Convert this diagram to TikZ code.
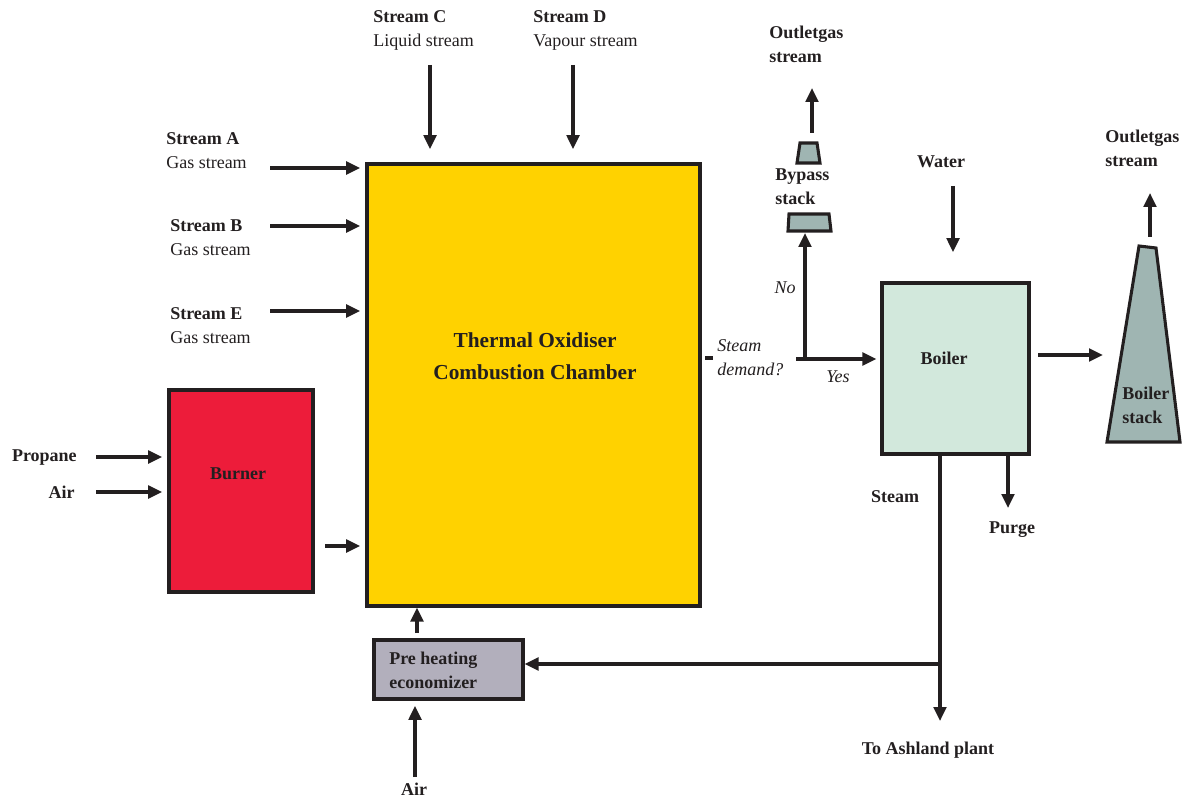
\documentclass[tikz,border=0pt]{standalone}
\usepackage{fontspec}
\setmainfont{Liberation Serif}
\usetikzlibrary{arrows.meta,fit}
\definecolor{ink}{HTML}{231F20}
\definecolor{oxfill}{HTML}{FFD200}
\definecolor{burnfill}{HTML}{ED1C3A}
\definecolor{ecofill}{HTML}{B2AFBC}
\definecolor{boilfill}{HTML}{D2E8DC}
\definecolor{stackfill}{HTML}{9FB5B2}
\begin{document}
\begin{tikzpicture}[x=0.75pt,y=-0.75pt,
  arr/.style={draw=ink, line width=2.3pt, -{Triangle[length=10.5pt,width=9.5pt]}},
  plain/.style={draw=ink, line width=2.3pt},
  box/.style={draw=ink, line width=2.3pt, inner sep=0pt},
  lbl/.style={text=ink, font=\fontsize{13.5}{18}\selectfont, align=left, inner sep=0pt},
  blbl/.style={text=ink, font=\fontsize{13.5}{18}\selectfont\bfseries, align=left, inner sep=0pt},
  ilbl/.style={text=ink, font=\fontsize{13.5}{18}\selectfont\itshape, align=left, inner sep=0pt},
  ]
\useasboundingbox (0,0) rectangle (1184,798);

% ---- boxes
\coordinate (oxa) at (367,164); \coordinate (oxb) at (700,606);
\node[box, fill=oxfill, fit=(oxa)(oxb)] (ox) {};
\coordinate (bua) at (169,390); \coordinate (bub) at (313,592);
\node[box, fill=burnfill, fit=(bua)(bub)] (bu) {};
\coordinate (eca) at (374,640); \coordinate (ecb) at (523,699);
\node[box, fill=ecofill, fit=(eca)(ecb)] (eco) {};
\coordinate (boa) at (882,283); \coordinate (bob) at (1029,454);
\node[box, fill=boilfill, fit=(boa)(bob)] (boil) {};

% ---- stacks
\draw[plain, fill=stackfill, line join=miter] (1107,442) -- (1139,246) -- (1156,248) -- (1180,442) -- cycle;
\draw[plain, fill=stackfill] (800,143) -- (817,143) -- (820,163) -- (797,163) -- cycle;
\draw[plain, fill=stackfill] (789,214) -- (829,214) -- (831,231) -- (788,231) -- cycle;
\coordinate (bypbot) at (805,233);

% ---- texts
\node[blbl, align=center, font=\fontsize{16}{24}\selectfont\bfseries] (oxt) at (535,356) {Thermal Oxidiser\\Combustion Chamber};
\node[blbl] (but) at (238,474) {Burner};
\node[blbl, anchor=west] (ecot) at (389,670) {Pre heating\\economizer};
\node[blbl] (boilt) at (944,358) {Boiler};
\node[blbl, anchor=west] (bst) at (1122,405) {Boiler\\stack};
\node[blbl, anchor=west] (bypt) at (775,187) {Bypass\\stack};

\node[lbl, anchor=west] (tA) at (166,151) {\textbf{Stream A}\\Gas stream};
\node[lbl, anchor=west] (tB) at (170,238) {\textbf{Stream B}\\Gas stream};
\node[lbl, anchor=west] (tE) at (170,326) {\textbf{Stream E}\\Gas stream};
\node[lbl, anchor=west] (tC) at (373,30) {\textbf{Stream C}\\Liquid stream};
\node[lbl, anchor=west] (tD) at (533,30) {\textbf{Stream D}\\Vapour stream};
\node[blbl, anchor=east] (tprop) at (77,458) {Propane};
\node[blbl, anchor=east] (tair) at (75,492) {Air};
\node[blbl] (tair2) at (414,789) {Air};
\node[blbl, anchor=west] (tout1) at (769,44) {Outletgas\\stream};
\node[blbl, anchor=west] (tout2) at (1105,148) {Outletgas\\stream};
\node[blbl] (twater) at (941,162) {Water};
\node[blbl] (tsteam) at (895,497) {Steam};
\node[blbl] (tpurge) at (1012,530) {Purge};
\node[blbl] (tash) at (928,750) {To Ashland plant};
\node[ilbl, anchor=west] (tdem) at (717,358) {Steam\\demand?};
\node[ilbl] (tno) at (785,288) {No};
\node[ilbl] (tyes) at (838,377) {Yes};

% ---- connectors
\coordinate (sA) at (270,168);
\coordinate (sB) at (270,226);
\coordinate (sE) at (270,311);
\draw[arr, shorten >=4pt] (sA) -- (sA -| ox.west);
\draw[arr, shorten >=4pt] (sB) -- (sB -| ox.west);
\draw[arr, shorten >=4pt] (sE) -- (sE -| ox.west);
\coordinate (sC) at (430,65);
\coordinate (sD) at (573,65);
\draw[arr, shorten >=10pt] (sC) -- (sC |- ox.north);
\draw[arr, shorten >=10pt] (sD) -- (sD |- ox.north);
\coordinate (sP) at (96,457);
\coordinate (sAi) at (96,492);
\draw[arr, shorten >=4pt] (sP) -- (sP -| bu.west);
\draw[arr, shorten >=4pt] (sAi) -- (sAi -| bu.west);
\coordinate (bout) at (325,546);
\draw[arr, shorten >=4pt] (bout) -- (bout -| ox.west);
\coordinate (eu) at (417,633);
\draw[arr] (eu) -- (eu |- ox.south);
\coordinate (airb) at (415,777);
\draw[arr, shorten >=4pt] (airb) -- (airb |- eco.south);

% steam / boiler
\coordinate (stt) at (940,454);
\coordinate (ash) at (940,721);
\coordinate (br) at (940,664);
\draw[arr] (stt) -- (ash);
\draw[arr] (br) -- (br -| eco.east);
\coordinate (pt) at (1008,454);
\coordinate (pb) at (1008,508);
\draw[arr] (pt) -- (pb);
\coordinate (wt) at (953,186);
\draw[arr, shorten >=22pt] (wt) -- (wt |- boil.north);
\coordinate (bo1) at (1038,355);
\coordinate (bo2) at (1103,355);
\draw[arr] (bo1) -- (bo2);
\coordinate (s2a) at (1150,237);
\coordinate (s2b) at (1150,193);
\draw[arr] (s2a) -- (s2b);

% steam demand decision
\coordinate (d1) at (705,358);
\coordinate (d2) at (713,358);
\draw[plain] (d1) -- (d2);
\coordinate (ys) at (796,359);
\draw[arr, shorten >=3pt] (ys) -- (ys -| boil.west);
\coordinate (nos) at (805,359);
\draw[arr] (nos) -- (bypbot);
\coordinate (s1a) at (812,133);
\coordinate (s1b) at (812,88);
\draw[arr] (s1a) -- (s1b);
\end{tikzpicture}
\end{document}
